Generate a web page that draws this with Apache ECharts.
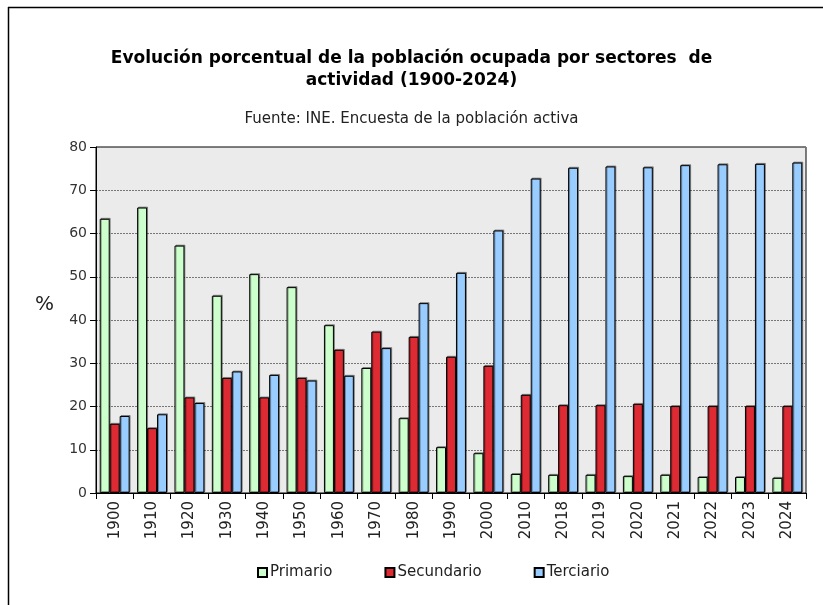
<!DOCTYPE html>
<html>
<head>
<meta charset="utf-8">
<script src="https://cdn.jsdelivr.net/npm/echarts@6/dist/echarts.min.js"></script>
<style>
html,body{margin:0;padding:0;background:#fff;}
#chart{width:823px;height:605px;}
</style>
</head>
<body>
<div id="chart"></div>
<script>
const categories = ['1900','1910','1920','1930','1940','1950','1960','1970','1980','1990','2000','2010','2018','2019','2020','2021','2022','2023','2024'];
const primario   = [63.4, 66.0, 57.2, 45.6, 50.6, 47.6, 38.8, 28.9, 17.3, 10.6, 9.2, 4.4, 4.2, 4.2, 3.9, 4.2, 3.7, 3.7, 3.5];
const secundario = [16.0, 15.0, 22.1, 26.6, 22.1, 26.6, 33.1, 37.3, 36.1, 31.5, 29.4, 22.7, 20.3, 20.3, 20.6, 20.1, 20.1, 20.1, 20.1];
const terciario  = [17.8, 18.2, 20.8, 28.1, 27.3, 26.0, 27.1, 33.5, 43.9, 50.9, 60.7, 72.7, 75.2, 75.5, 75.3, 75.8, 76.0, 76.1, 76.4];
const yTicks = [0, 10, 20, 30, 40, 50, 60, 70, 80];

const FONT = '"DejaVu Sans", sans-serif';
const chart = echarts.init(document.getElementById('chart'), null, {renderer: 'canvas'});

function barSeries(name, data, color) {
  return {
    name: name,
    type: 'bar',
    data: data,
    barGap: '0%',
    barCategoryGap: '20%',
    itemStyle: {
      color: color,
      borderColor: '#000',
      borderWidth: 1,
      shadowColor: 'rgba(0,0,0,0.35)',
      shadowOffsetX: 1,
      shadowOffsetY: -1,
      shadowBlur: 0
    }
  };
}

chart.setOption({
  animation: false,
  backgroundColor: '#fff',
  title: [
    {
      text: 'Evolución porcentual de la población ocupada por sectores  de\nactividad (1900-2024)',
      left: 'center',
      top: 43,
      textStyle: {fontFamily: FONT, fontSize: 17, fontWeight: 'bold', color: '#000', lineHeight: 22, align: 'center'}
    },
    {
      text: 'Fuente: INE. Encuesta de la población activa',
      left: 'center',
      top: 107,
      textStyle: {fontFamily: FONT, fontSize: 15, fontWeight: 'normal', color: '#222'}
    }
  ],
  legend: {
    bottom: 20,
    left: 252,
    itemWidth: 9,
    itemHeight: 9,
    itemGap: 52,
    icon: 'rect',
    textStyle: {fontFamily: FONT, fontSize: 15, color: '#222', padding: [0,0,0,-2]},
    data: ['Primario', 'Secundario', 'Terciario']
  },
  grid: {
    left: 96, right: 17, top: 147, bottom: 112,
    show: true,
    backgroundColor: '#EBEBEB',
    borderColor: '#000',
    borderWidth: 1
  },
  xAxis: {
    type: 'category',
    data: categories,
    axisLine: {lineStyle: {color: '#000', width: 1}},
    axisTick: {show: true, inside: false, length: 6, lineStyle: {color: '#000'}},
    axisLabel: {rotate: 90, fontFamily: FONT, fontSize: 15, color: '#222', margin: 8}
  },
  yAxis: {
    type: 'value',
    min: yTicks[0],
    max: yTicks[yTicks.length - 1],
    interval: 10,
    name: '%',
    nameLocation: 'middle',
    nameRotate: 0,
    nameGap: 42,
    nameTextStyle: {fontFamily: FONT, fontSize: 20, color: '#222', verticalAlign: 'bottom', lineHeight: 30},
    axisLine: {show: true, lineStyle: {color: '#000', width: 1}},
    axisTick: {show: true, inside: false, length: 6, lineStyle: {color: '#000'}},
    axisLabel: {fontFamily: FONT, fontSize: 14, color: '#333', margin: 9},
    splitLine: {show: true, lineStyle: {color: '#777', type: [2, 1], width: 1}}
  },
  series: [
    barSeries('Primario', primario, '#CCFFCC'),
    barSeries('Secundario', secundario, '#DD2A33'),
    barSeries('Terciario', terciario, '#99CCFF')
  ],
  graphic: [
    {type: 'line', shape: {x1: 8, y1: 7.5, x2: 823, y2: 7.5}, style: {stroke: '#000', lineWidth: 1.5}, silent: true},
    {type: 'line', shape: {x1: 8.5, y1: 7, x2: 8.5, y2: 605}, style: {stroke: '#000', lineWidth: 1.5}, silent: true}
  ]
});
</script>
</body>
</html>
